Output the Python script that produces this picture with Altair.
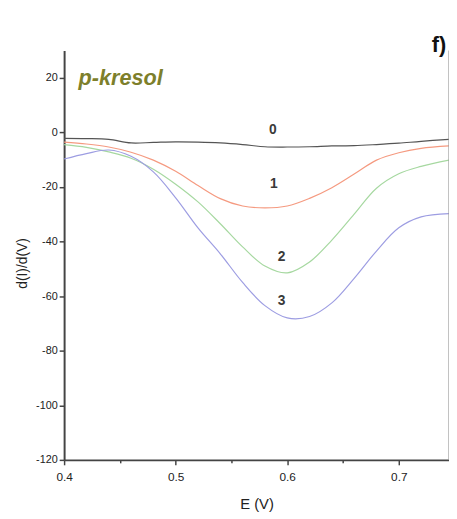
import altair as alt
import pandas as pd

# ---- data ----
E = [0.40, 0.42, 0.44, 0.46, 0.48, 0.50, 0.52, 0.54, 0.56, 0.58,
     0.60, 0.62, 0.64, 0.66, 0.68, 0.70, 0.72, 0.745]
curve0 = [-2.2, -2.3, -2.6, -3.9, -3.7, -3.5, -3.6, -3.9, -4.5, -5.3,
          -5.4, -5.3, -5.0, -4.9, -4.5, -4.0, -3.3, -2.6]
curve1 = [-3.6, -4.3, -5.4, -7.3, -10.2, -14.3, -19.5, -24.3, -27.0, -27.7,
          -27.0, -24.2, -20.3, -15.3, -10.2, -7.5, -5.9, -5.0]
curve2 = [-4.5, -5.5, -7.2, -9.5, -13.5, -19.0, -25.5, -33.5, -42.0, -49.0,
          -51.5, -47.5, -39.5, -30.0, -20.5, -15.2, -12.5, -10.2]
curve3 = [-9.8, -7.8, -6.5, -8.8, -14.5, -24.0, -35.0, -44.5, -55.0, -63.5,
          -68.0, -67.5, -62.5, -53.5, -43.5, -35.0, -31.0, -29.8]

series_names = ["0", "1", "2", "3"]
series_colors = ["#555555", "#f59a80", "#a6d8a0", "#9d9de2"]

label_text = ["0", "1", "2", "3"]
label_x = [0.587, 0.588, 0.595, 0.595]
label_y = [0.9, -19.1, -45.8, -62.0]

x_ticks = [0.4, 0.45, 0.5, 0.55, 0.6, 0.65, 0.7]
y_ticks = list(range(-120, 21, 10))
x_domain = [0.4, 0.745]
y_domain = [-120, 30]

title_text = ["p-kresol"]
title_x = [0.413]
title_y = [20]
panel_text = ["f)"]
panel_x = [0.736]
panel_y = [32]

# ---- build tables ----
rows = []
for name, ys in zip(series_names, [curve0, curve1, curve2, curve3]):
    for xv, yv in zip(E, ys):
        rows.append({"E": xv, "val": yv, "curve": name})
df = pd.DataFrame(rows)
labels_df = pd.DataFrame({"E": label_x, "val": label_y, "t": label_text})
title_df = pd.DataFrame({"E": title_x, "val": title_y, "t": title_text})
panel_df = pd.DataFrame({"E": panel_x, "val": panel_y, "t": panel_text})
edge_df = pd.DataFrame({"E": [x_domain[1]]})

xscale = alt.Scale(domain=x_domain, nice=False, zero=False)
yscale = alt.Scale(domain=y_domain, nice=False, zero=False)

x_major = "round(datum.value*100) % 10 === 0"
y_major = "datum.value % 20 === 0"

x_axis = alt.Axis(
    values=x_ticks,
    title="E (V)",
    labelExpr=f"{x_major} ? format(datum.value, '.1f') : ''",
    tickSize={"condition": {"test": x_major, "value": 5}, "value": 3},
    labelPadding=7,
    labelFontSize=12,
    labelFlush=False,
    titleY=44,
    titleBaseline="middle",
)
y_axis = alt.Axis(
    values=y_ticks,
    title="d(I)/d(V)",
    labelExpr=f"{y_major} ? '' + datum.value : ''",
    tickSize={"condition": {"test": y_major, "value": 5}, "value": 3},
    labelPadding=2,
    labelFlush=False,
    titleX=-42,
    titleY=216,
    titleAngle=270,
    titleBaseline="middle",
    titleFontSize=14,
)

lines = alt.Chart(df).mark_line(strokeWidth=1.2, interpolate="catmull-rom").encode(
    x=alt.X("E:Q", scale=xscale, axis=x_axis),
    y=alt.Y("val:Q", scale=yscale, axis=y_axis),
    color=alt.Color("curve:N", scale=alt.Scale(domain=series_names, range=series_colors), legend=None),
)

edge = alt.Chart(edge_df).mark_rule(color="#999999", strokeWidth=1.2).encode(
    x=alt.X("E:Q", scale=xscale)
)

labels = alt.Chart(labels_df).mark_text(
    font="Liberation Sans", fontSize=14, fontWeight="bold", color="#3a3a3a"
).encode(
    x=alt.X("E:Q", scale=xscale), y=alt.Y("val:Q", scale=yscale), text="t:N"
)

title = alt.Chart(title_df).mark_text(
    font="Liberation Sans", fontSize=22, fontWeight="bold", fontStyle="italic",
    color="#7d7f2b", align="left", baseline="middle"
).encode(
    x=alt.X("E:Q", scale=xscale), y=alt.Y("val:Q", scale=yscale), text="t:N"
)

panel = alt.Chart(panel_df).mark_text(
    font="Liberation Sans", fontSize=22, fontWeight="bold", color="#111111",
    align="center", baseline="middle"
).encode(
    x=alt.X("E:Q", scale=xscale), y=alt.Y("val:Q", scale=yscale), text="t:N"
)

chart = alt.layer(lines, edge, labels, title, panel).properties(
    width=391,
    height=416,
    padding={"left": 57, "top": 39, "right": 0, "bottom": 56},
    autosize=alt.AutoSizeParams(type="none"),
).configure_view(stroke=None).configure_axis(
    grid=False,
    labelFont="Liberation Sans",
    labelFontSize=11,
    labelColor="#222222",
    domainColor="#444444",
    domainWidth=2,
    tickColor="#444444",
    tickWidth=1.5,
    titleFont="Liberation Sans",
    titleFontSize=15,
    titleFontWeight="normal",
    titleColor="#222222",
)

chart.save("out.html", embed_options={"renderer": "svg", "actions": False})
